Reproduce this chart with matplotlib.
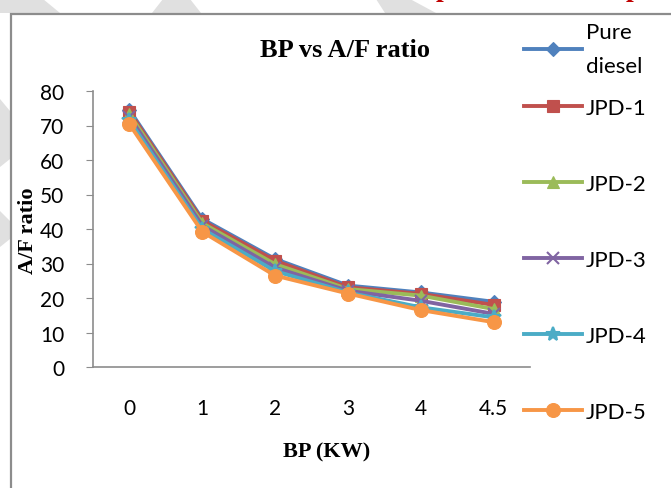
import matplotlib.pyplot as plt
from matplotlib.patches import Rectangle, Polygon

# BP (kW) categories and A/F ratio per fuel blend
bp_labels = ["0", "1", "2", "3", "4", "4.5"]
pure_diesel = [74.5, 42.9, 31.3, 23.6, 21.6, 18.9]
jpd1 = [74.0, 42.4, 30.8, 23.1, 21.2, 18.0]
jpd2 = [73.3, 41.7, 29.8, 22.6, 20.7, 16.8]
jpd3 = [72.5, 41.0, 28.8, 22.1, 19.2, 15.4]
jpd4 = [71.5, 40.0, 27.8, 21.6, 17.3, 14.4]
jpd5 = [70.4, 39.2, 26.5, 21.3, 16.5, 13.0]

series_names = ["Pure\ndiesel", "JPD-1", "JPD-2", "JPD-3", "JPD-4", "JPD-5"]
series = [pure_diesel, jpd1, jpd2, jpd3, jpd4, jpd5]
colors = ["#4F81BD", "#C0504D", "#9BBB59", "#8064A2", "#4BACC6", "#F79646"]
markers = ["D", "s", "^", "x", "*", "o"]
msizes = [7, 9, 9, 9, 10, 10]

sans = ["Lato", "DejaVu Sans"]
serif = ["Liberation Serif", "DejaVu Serif"]

W, H = 671, 489
fig = plt.figure(figsize=(W/100, H/100), dpi=100)

def px(pts):
    # pixel coords (top-left origin) -> figure fraction
    return [(x/W, 1 - y/H) for x, y in pts]

# faint watermark shapes peeking out around the frame
for shape in [[(0, 0), (43, 0), (60, 14), (0, 14)],
              [(163, 0), (190, 0), (201, 14), (152, 14)],
              [(376, 0), (410, 0), (436, 14), (385, 14)],
              [(0, 100), (10, 112), (10, 160), (0, 168)],
              [(0, 212), (10, 222), (10, 240), (0, 248)]]:
    fig.patches.append(Polygon(px(shape), closed=True, transform=fig.transFigure,
                               facecolor="#e0e0e0", edgecolor="none", zorder=-3))

# stray red text from the page above the chart
for xp in [436, 626]:
    fig.text(xp/W, 1 + 4/H, "p", color="#c00000", family=serif,
             fontweight="bold", fontsize=20, va="baseline")

# gray frame around the chart
fig.patches.append(Rectangle((11/W, -0.1), 1.2, 1 - 15/H + 0.1,
                             transform=fig.transFigure, facecolor="white",
                             edgecolor="#8c8c8c", linewidth=1.6, zorder=-2))

ax = fig.add_axes([93/W, 1 - 368/H, (530 - 93)/W, (368 - 92)/H])
ax.patch.set_alpha(0)

x = list(range(len(bp_labels)))
lines = []
for name, vals, c, m, ms in zip(series_names, series, colors, markers, msizes):
    ln, = ax.plot(x, vals, color=c, linewidth=2.8, marker=m, markersize=ms,
                  markeredgewidth=1.5 if m in ("x", "*") else 0.8,
                  markeredgecolor=c, label=name)
    lines.append(ln)

ax.set_xlim(-0.5, len(bp_labels) - 0.5)
ax.set_ylim(0, 80)
ax.set_yticks(range(0, 81, 10))
ax.set_xticks(x)
ax.set_xticklabels(bp_labels)

for s in ["top", "right"]:
    ax.spines[s].set_visible(False)
for s in ["left", "bottom"]:
    ax.spines[s].set_color("#8c8c8c")
    ax.spines[s].set_linewidth(1.2)

ax.tick_params(axis="y", length=5, color="#8c8c8c", pad=15.5, labelsize=15)
ax.tick_params(axis="x", length=0, pad=22, labelsize=15)
for lab in ax.get_xticklabels() + ax.get_yticklabels():
    lab.set_family(sans)

fig.text(345/W, 1 - 51/H, "BP vs A/F ratio", family=serif,
         fontweight="bold", fontsize=19, ha="center", va="center")
fig.text(28/W, 1 - 231/H, "A/F ratio", family=serif, fontweight="bold",
         fontsize=16, rotation=90, ha="center", va="center")
fig.text(327/W, 1 - 452/H, "BP (KW)", family=serif, fontweight="bold",
         fontsize=16, ha="center", va="center")

# Excel spreads legend entries evenly; first (two-line) entry on its own
leg_kw = dict(frameon=False, prop={"family": sans, "size": 16},
              handlelength=2.6, handletextpad=0.2, borderpad=0, borderaxespad=0)
leg1 = fig.legend(lines[:1], series_names[:1], loc="center left",
                  bbox_to_anchor=(524/W, 1 - 50/H), **leg_kw)
for t in leg1.get_texts():
    t.set_linespacing(1.9)
fig.legend(lines[1:], series_names[1:], loc="upper left",
           bbox_to_anchor=(524/W, 1 - 99/H), labelspacing=2.52, **leg_kw)

fig.savefig("out.png", dpi=100)
